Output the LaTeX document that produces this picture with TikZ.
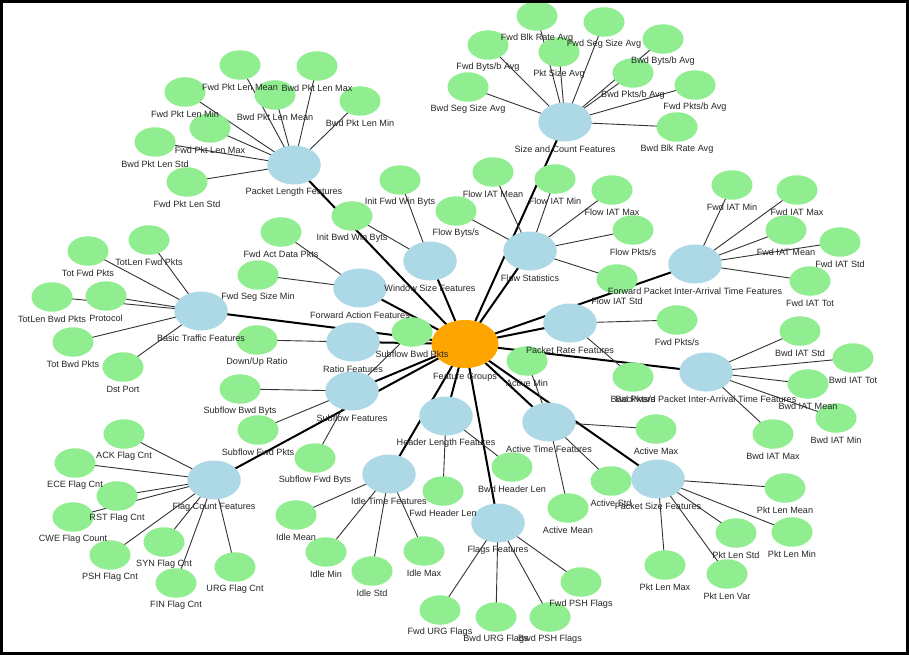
\documentclass[tikz,border=0pt]{standalone}
\usepackage{fontspec}
\setmainfont{Liberation Sans}
\usetikzlibrary{shapes.geometric}
\pgfdeclarelayer{background}
\pgfdeclarelayer{foreground}
\pgfsetlayers{background,main,foreground}
\definecolor{leafgreen}{HTML}{90EE90}
\definecolor{hubblue}{HTML}{ADD8E6}
\definecolor{centerorange}{HTML}{FFA500}
\tikzset{
  leaf/.style={ellipse,fill=leafgreen,draw=none,minimum width=41pt,minimum height=29.5pt,inner sep=0pt},
  hub/.style={ellipse,fill=hubblue,draw=none,minimum width=53.5pt,minimum height=39pt,inner sep=0pt},
  core/.style={ellipse,fill=centerorange,draw=none,minimum width=67pt,minimum height=48pt,inner sep=0pt},
  lbl/.style={inner sep=0pt,font=\fontsize{9.1}{10}\selectfont,text=black!85},
  thin edge/.style={draw=black!80,line width=0.9pt},
  thick edge/.style={draw=black,line width=2pt}
}
\newcommand\leafnode[4]{%
  \node[leaf] (#1) at (#2,#3) {};
  \begin{pgfonlayer}{foreground}\node[lbl] (#1-t) at (#2,#3+22.5) {#4};\end{pgfonlayer}}
\newcommand\hubnode[4]{%
  \node[hub] (#1) at (#2,#3) {};
  \begin{pgfonlayer}{foreground}\node[lbl] (#1-t) at (#2,#3+27) {#4};\end{pgfonlayer}}
\begin{document}
\begin{tikzpicture}[x=1pt,y=-1pt]
\useasboundingbox (0,0) rectangle (909,655);

% center
\node[core] (fg) at (465,344) {};
\begin{pgfonlayer}{foreground}\node[lbl] (fg-t) at (465,377) {Feature Groups};
\draw[line width=3pt] (1.5,1.5) rectangle (907,653);\end{pgfonlayer}

% hubs
\hubnode{plf}{294}{165}{Packet Length Features}
\hubnode{scf}{565}{122}{Size and Count Features}
\hubnode{wsf}{430}{261}{Window Size Features}
\hubnode{fst}{530}{251}{Flow Statistics}
\hubnode{faf}{360}{288}{Forward Action Features}
\hubnode{btf}{201}{311}{Basic Traffic Features}
\hubnode{rtf}{353}{342}{Ratio Features}
\hubnode{sbf}{352}{391}{Subflow Features}
\hubnode{fia}{695}{264}{Forward Packet Inter-Arrival Time Features}
\hubnode{prf}{570}{323}{Packet Rate Features}
\hubnode{bia}{706}{372}{Backward Packet Inter-Arrival Time Features}
\hubnode{hlf}{446}{416}{Header Length Features}
\hubnode{atf}{549}{422}{Active Time Features}
\hubnode{itf}{389}{474}{Idle Time Features}
\hubnode{fcf}{214}{480}{Flag Count Features}
\hubnode{flf}{498}{523}{Flags Features}
\hubnode{psf}{658}{479}{Packet Size Features}

% Packet Length
\leafnode{fplmean}{240}{65}{Fwd Pkt Len Mean}
\leafnode{bplmax}{317}{66}{Bwd Pkt Len Max}
\leafnode{bplmean}{275}{95}{Bwd Pkt Len Mean}
\leafnode{bplmin}{360}{101}{Bwd Pkt Len Min}
\leafnode{fplmin}{185}{92}{Fwd Pkt Len Min}
\leafnode{fplmax}{210}{128}{Fwd Pkt Len Max}
\leafnode{bplstd}{155}{142}{Bwd Pkt Len Std}
\leafnode{fplstd}{187}{182}{Fwd Pkt Len Std}

% Size and Count
\leafnode{fbra}{537}{16}{Fwd Blk Rate Avg}
\leafnode{fssa}{604}{22}{Fwd Seg Size Avg}
\leafnode{bbba}{663}{39}{Bwd Byts/b Avg}
\leafnode{fbba}{488}{45}{Fwd Byts/b Avg}
\leafnode{psa}{559}{52}{Pkt Size Avg}
\leafnode{bpba}{633}{73}{Bwd Pkts/b Avg}
\leafnode{fpba}{695}{85}{Fwd Pkts/b Avg}
\leafnode{bbra}{677}{127}{Bwd Blk Rate Avg}
\leafnode{bssa}{468}{87}{Bwd Seg Size Avg}

% Flow Statistics
\leafnode{flmean}{493}{172}{Flow IAT Mean}
\leafnode{flmin}{555}{179}{Flow IAT Min}
\leafnode{flmax}{612}{190}{Flow IAT Max}
\leafnode{flpkts}{633}{230}{Flow Pkts/s}
\leafnode{flstd}{617}{279}{Flow IAT Std}
\leafnode{flbyts}{456}{211}{Flow Byts/s}

% Window Size
\leafnode{ifwb}{400}{180}{Init Fwd Win Byts}
\leafnode{ibwb}{352}{216}{Init Bwd Win Byts}

% Forward Action
\leafnode{fadp}{281}{232}{Fwd Act Data Pkts}
\leafnode{fssm}{258}{275}{Fwd Seg Size Min}

% Basic Traffic
\leafnode{tlfp}{149}{240}{TotLen Fwd Pkts}
\leafnode{tfp}{88}{251}{Tot Fwd Pkts}
\leafnode{tlbp}{52}{297}{TotLen Bwd Pkts}
\leafnode{proto}{106}{296}{Protocol}
\leafnode{tbp}{73}{342}{Tot Bwd Pkts}
\leafnode{dport}{123}{367}{Dst Port}

% Ratio
\leafnode{dur}{257}{340}{Down/Up Ratio}

% Subflow
\leafnode{sbpk}{412}{332}{Subflow Bwd Pkts}
\leafnode{sbby}{240}{389}{Subflow Bwd Byts}
\leafnode{sfpk}{258}{430}{Subflow Fwd Pkts}
\leafnode{sfby}{315}{458}{Subflow Fwd Byts}

% Forward IAT
\leafnode{fimin}{732}{185}{Fwd IAT Min}
\leafnode{fimax}{797}{190}{Fwd IAT Max}
\leafnode{fimean}{786}{230}{Fwd IAT Mean}
\leafnode{fistd}{840}{242}{Fwd IAT Std}
\leafnode{fitot}{810}{281}{Fwd IAT Tot}

% Packet Rate
\leafnode{fpks}{677}{320}{Fwd Pkts/s}
\leafnode{bpks}{633}{377}{Bwd Pkts/s}

% Backward IAT
\leafnode{bistd}{800}{331}{Bwd IAT Std}
\leafnode{bitot}{853}{358}{Bwd IAT Tot}
\leafnode{bimean}{808}{384}{Bwd IAT Mean}
\leafnode{bimin}{836}{418}{Bwd IAT Min}
\leafnode{bimax}{773}{434}{Bwd IAT Max}

% Packet Size
\leafnode{plmean}{785}{488}{Pkt Len Mean}
\leafnode{plmin}{792}{532}{Pkt Len Min}
\leafnode{plstd}{736}{533}{Pkt Len Std}
\leafnode{plvar}{727}{574}{Pkt Len Var}
\leafnode{plmax}{665}{565}{Pkt Len Max}

% Active Time
\leafnode{amax}{656}{429}{Active Max}
\leafnode{astd}{611}{481}{Active Std}
\leafnode{amean}{568}{508}{Active Mean}
\leafnode{amin}{527}{361}{Active Min}

% Header Length
\leafnode{fhl}{443}{491}{Fwd Header Len}
\leafnode{bhl}{512}{467}{Bwd Header Len}

% Idle Time
\leafnode{imean}{296}{515}{Idle Mean}
\leafnode{imin}{326}{552}{Idle Min}
\leafnode{istd}{372}{571}{Idle Std}
\leafnode{imax}{424}{551}{Idle Max}

% Flags
\leafnode{furg}{440}{610}{Fwd URG Flags}
\leafnode{burg}{496}{617}{Bwd URG Flags}
\leafnode{bpsh}{550}{617}{Bwd PSH Flags}
\leafnode{fpsh}{581}{582}{Fwd PSH Flags}

% Flag Count
\leafnode{ack}{124}{434}{ACK Flag Cnt}
\leafnode{ece}{75}{463}{ECE Flag Cnt}
\leafnode{rst}{117}{496}{RST Flag Cnt}
\leafnode{cwe}{73}{517}{CWE Flag Count}
\leafnode{psh}{110}{555}{PSH Flag Cnt}
\leafnode{syn}{164}{542}{SYN Flag Cnt}
\leafnode{fin}{176}{583}{FIN Flag Cnt}
\leafnode{urg}{235}{567}{URG Flag Cnt}

\begin{pgfonlayer}{background}
\fill[white] (0,0) rectangle (909,655);
\foreach \h in {plf,scf,wsf,fst,faf,btf,rtf,sbf,fia,prf,bia,hlf,atf,itf,fcf,flf,psf}
  \draw[thick edge] (fg.center) -- (\h.center);
\foreach \h/\l in {plf/fplmean,plf/bplmax,plf/bplmean,plf/bplmin,plf/fplmin,plf/fplmax,plf/bplstd,plf/fplstd,
  scf/fbra,scf/fssa,scf/bbba,scf/fbba,scf/psa,scf/bpba,scf/fpba,scf/bbra,scf/bssa,
  fst/flmean,fst/flmin,fst/flmax,fst/flpkts,fst/flstd,fst/flbyts,
  wsf/ifwb,wsf/ibwb,faf/fadp,faf/fssm,
  btf/tlfp,btf/tfp,btf/tlbp,btf/proto,btf/tbp,btf/dport,
  rtf/dur,sbf/sbpk,sbf/sbby,sbf/sfpk,sbf/sfby,
  fia/fimin,fia/fimax,fia/fimean,fia/fistd,fia/fitot,
  prf/fpks,prf/bpks,
  bia/bistd,bia/bitot,bia/bimean,bia/bimin,bia/bimax,
  psf/plmean,psf/plmin,psf/plstd,psf/plvar,psf/plmax,
  atf/amax,atf/astd,atf/amean,atf/amin,
  hlf/fhl,hlf/bhl,
  itf/imean,itf/imin,itf/istd,itf/imax,
  flf/furg,flf/burg,flf/bpsh,flf/fpsh,
  fcf/ack,fcf/ece,fcf/rst,fcf/cwe,fcf/psh,fcf/syn,fcf/fin,fcf/urg}
  \draw[thin edge] (\h.center) -- (\l.center);
\end{pgfonlayer}
\end{tikzpicture}
\end{document}
